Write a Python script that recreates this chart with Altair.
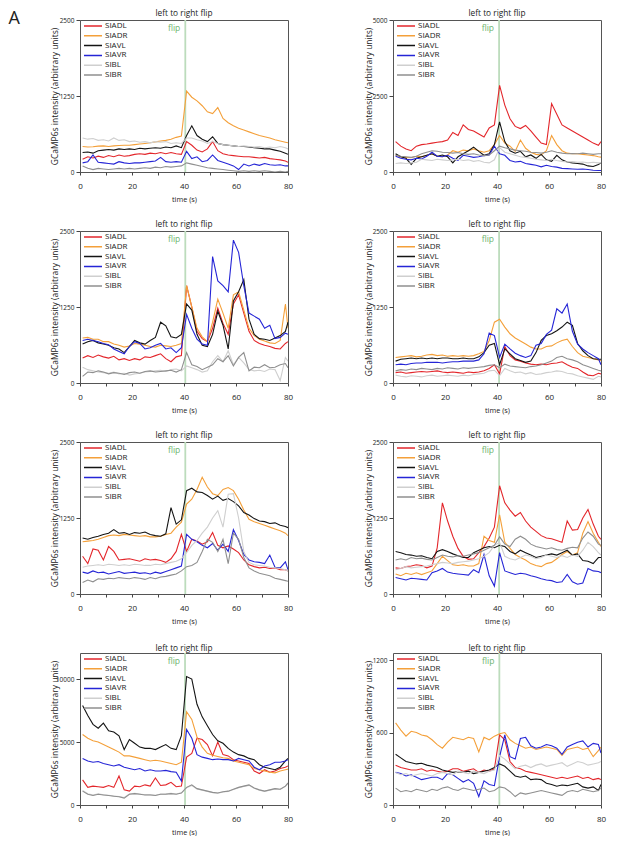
import altair as alt
import pandas as pd

FONT = "Open Sans"

# shared time grid (s)
T = [1, 3, 5, 7, 9, 11, 13, 15, 17, 19,
     21, 23, 25, 27, 29, 31, 33, 35, 37, 39,
     41, 43, 45, 47, 49, 51, 53, 55, 57, 59,
     61, 63, 65, 67, 69, 71, 73, 75, 77, 79, 80]

SERIES = ["SIADL", "SIADR", "SIAVL", "SIAVR", "SIBL", "SIBR"]
COLORS = ["#e3262b", "#f4a03a", "#141414", "#2525d6", "#cfcfcf", "#8f8f8f"]

FIG_LABEL = "A"
TITLES = ["left to right flip", "left to right flip", "left to right flip", "left to right flip",
          "left to right flip", "left to right flip", "left to right  flip", "left to right flip"]
Y_MAX = [2500, 5000, 2500, 2500, 2500, 2500, 12070, 1258]
Y_TICKS = [[0, 1250, 2500], [0, 2500, 5000], [0, 1250, 2500], [0, 1250, 2500],
           [0, 1250, 2500], [0, 1250, 2500], [0, 5000, 10000], [0, 600, 1200]]
FLIP_T = [40.5, 40.8, 40.5, 40.8, 40.5, 40.8, 40.4, 40.9]
X_TICKS = [0, 10, 20, 30, 40, 50, 60, 70, 80]

# ---------------- panel 1 ----------------
P1_SIADL = [210, 250, 230, 260, 240, 270, 250, 280, 260, 270,
            290, 300, 290, 310, 300, 320, 300, 320, 300, 290,
            500, 440, 360, 330, 380, 500, 350, 300, 280, 270,
            260, 250, 250, 240, 230, 240, 220, 210, 200, 180, 160]
P1_SIADR = [420, 410, 415, 425, 430, 420, 430, 435, 440, 440,
            450, 460, 470, 480, 495, 510, 520, 540, 570, 590,
            1330, 1230, 1170, 1090, 990, 960, 1060, 880, 810, 760,
            720, 690, 660, 630, 600, 580, 560, 530, 510, 490, 480]
P1_SIAVL = [320, 330, 310, 350, 360, 370, 360, 380, 370, 380,
            370, 390, 380, 390, 400, 390, 410, 400, 430, 400,
            600, 760, 600, 540, 500, 580, 470, 450, 440, 430,
            420, 420, 410, 400, 390, 380, 380, 360, 340, 310, 290]
P1_SIAVR = [150, 170, 280, 160, 150, 140, 130, 170, 150, 140,
            150, 150, 160, 170, 180, 240, 170, 160, 170, 160,
            340, 220, 250, 170, 190, 280, 190, 160, 130, 100,
            40, 130, 100, 130, 110, 140, 120, 110, 120, 100, 100]
P1_SIBL = [560, 540, 550, 520, 530, 510, 560, 520, 530, 500,
           510, 490, 500, 480, 500, 490, 500, 470, 480, 470,
           560, 560, 530, 510, 470, 500, 470, 450, 440, 430,
           420, 430, 420, 410, 420, 400, 410, 400, 420, 400, 380]
P1_SIBR = [100, 60, 40, 60, 50, 40, 50, 60, 50, 60,
           50, 60, 70, 60, 80, 70, 90, 80, 90, 100,
           150, 130, 110, 90, 70, 60, 50, 40, 30, 20,
           10, 20, 10, 20, 10, 20, 10, 0, 10, 0, 10]

# ---------------- panel 2 ----------------
P2_SIADL = [1000, 850, 760, 700, 850, 900, 920, 950, 980, 1000,
            1050, 1300, 1200, 1550, 1400, 1350, 1250, 1150, 1450, 1550,
            2850, 2200, 1750, 1500, 1430, 1530, 1350, 1150, 950, 900,
            2250, 1900, 1550, 1450, 1350, 1250, 1150, 1050, 950, 880, 1000]
P2_SIADR = [550, 500, 480, 470, 520, 500, 550, 600, 520, 500,
            560, 700, 650, 720, 700, 760, 700, 650, 700, 900,
            1200, 950, 850, 680, 1050, 780, 650, 580, 560, 700,
            1200, 900, 700, 620, 600, 600, 580, 560, 540, 500, 490]
P2_SIAVL = [600, 500, 450, 250, 450, 500, 550, 600, 520, 560,
            500, 300, 500, 600, 700, 820, 680, 550, 600, 900,
            1650, 1000, 700, 620, 680, 500, 560, 450, 580, 400,
            350, 550, 400, 330, 300, 280, 260, 200, 180, 250, 300]
P2_SIAVR = [520, 450, 420, 400, 450, 430, 520, 650, 520, 500,
            550, 450, 380, 550, 520, 480, 500, 540, 560, 850,
            600, 550, 380, 330, 350, 280, 250, 220, 170, 220,
            180, 160, 120, 110, 100, 90, 100, 80, 60, 50, 50]
P2_SIBL = [280, 300, 280, 300, 320, 420, 400, 380, 420, 400,
           380, 400, 420, 380, 400, 350, 380, 320, 300, 400,
           800, 650, 600, 550, 500, 480, 450, 420, 400, 380,
           420, 380, 350, 330, 340, 320, 330, 300, 320, 300, 300]
P2_SIBR = [550, 520, 500, 480, 520, 600, 650, 700, 680, 650,
           640, 620, 640, 600, 580, 600, 560, 540, 560, 700,
           850, 800, 760, 720, 700, 680, 650, 640, 620, 650,
           700, 650, 620, 600, 610, 600, 620, 600, 580, 600, 600]

# ---------------- panel 3 ----------------
P3_SIADL = [410, 450, 420, 460, 430, 410, 440, 380, 400, 370,
            400, 380, 430, 420, 450, 480, 400, 350, 430, 450,
            1600, 1250, 850, 730, 680, 900, 1230, 980, 800, 1300,
            1450, 1150, 850, 700, 650, 620, 600, 570, 560, 650, 680]
P3_SIADR = [740, 750, 720, 720, 680, 680, 640, 620, 590, 610,
            650, 640, 620, 600, 590, 620, 610, 600, 620, 650,
            1600, 1250, 900, 760, 680, 1000, 1380, 1150, 900, 1450,
            1500, 1200, 900, 780, 720, 690, 660, 650, 700, 1300, 900]
P3_SIAVL = [640, 680, 700, 660, 640, 620, 580, 560, 500, 600,
            700, 660, 640, 700, 750, 1000, 940, 760, 740, 800,
            1300, 1200, 800, 620, 600, 800, 1180, 950, 560, 1350,
            1500, 1700, 1050, 800, 730, 720, 700, 740, 780, 850, 1000]
P3_SIAVR = [700, 720, 700, 680, 650, 630, 560, 520, 480, 600,
            680, 650, 560, 580, 620, 650, 560, 580, 500, 580,
            1130, 900, 720, 640, 620, 2080, 1680, 1600, 1500, 2350,
            2150, 1600, 1150, 1100, 1050, 900, 950, 730, 750, 820, 800]
P3_SIBL = [260, 220, 200, 180, 170, 160, 180, 150, 160, 130,
           150, 160, 180, 190, 200, 210, 190, 220, 230, 200,
           280, 250, 220, 180, 200, 350, 450, 350, 530, 300,
           420, 330, 220, 200, 210, 190, 230, 220, 40, 420, 360]
P3_SIBR = [110, 180, 170, 200, 180, 150, 170, 160, 140, 170,
           180, 160, 190, 200, 180, 190, 200, 210, 180, 220,
           500, 300, 270, 220, 260, 300, 400, 350, 450, 280,
           420, 500, 200, 260, 250, 300, 250, 260, 300, 320, 250]

# ---------------- panel 4 ----------------
P4_SIADL = [170, 180, 160, 170, 180, 190, 180, 190, 200, 180,
            170, 180, 170, 160, 180, 170, 180, 200, 240, 300,
            150, 600, 450, 380, 360, 330, 310, 300, 310, 300,
            320, 330, 350, 300, 260, 240, 180, 130, 120, 160, 150]
P4_SIADR = [420, 430, 440, 450, 430, 440, 460, 470, 450, 460,
            440, 450, 440, 450, 440, 450, 480, 520, 700, 1000,
            1050, 920, 810, 740, 690, 640, 590, 560, 560, 600,
            610, 660, 700, 720, 600, 500, 440, 420, 400, 380, 370]
P4_SIAVL = [360, 390, 400, 410, 400, 410, 400, 410, 400, 410,
            410, 400, 400, 410, 400, 400, 430, 500, 620, 650,
            300, 560, 480, 400, 370, 340, 360, 500, 700, 780,
            810, 860, 920, 1000, 950, 650, 530, 450, 400, 390, 390]
P4_SIAVR = [300, 310, 300, 320, 330, 330, 340, 340, 340, 330,
            340, 350, 350, 360, 360, 360, 380, 480, 820, 780,
            420, 640, 560, 490, 450, 420, 450, 620, 650, 800,
            870, 1220, 1150, 1300, 850, 640, 560, 500, 450, 400, 300]
P4_SIBL = [130, 110, 100, 120, 110, 100, 120, 130, 110, 120,
           130, 120, 110, 130, 120, 140, 150, 160, 200, 210,
           120, 240, 200, 170, 180, 150, 170, 140, 150, 170,
           180, 200, 190, 160, 150, 120, 100, 80, 60, 110, 100]
P4_SIBR = [200, 220, 210, 230, 220, 240, 230, 220, 240, 230,
           250, 240, 230, 250, 240, 250, 260, 270, 290, 300,
           250, 310, 280, 270, 260, 250, 270, 280, 300, 330,
           360, 420, 440, 400, 380, 350, 300, 270, 240, 210, 200]

# ---------------- panel 5 ----------------
P5_SIADL = [620, 500, 740, 720, 560, 780, 700, 560, 570, 580,
            560, 540, 580, 560, 570, 550, 520, 580, 700, 980,
            700, 900, 870, 820, 860, 1010, 800, 760, 790, 740,
            680, 560, 480, 450, 430, 440, 420, 430, 400, 400, 380]
P5_SIADR = [860, 870, 880, 900, 930, 960, 970, 960, 980, 970,
            960, 950, 960, 940, 940, 950, 980, 1000, 1100, 1180,
            1480, 1560, 1720, 1920, 1760, 1650, 1620, 1720, 1750, 1700,
            1560, 1380, 1230, 1190, 1160, 1130, 1100, 1070, 1040, 1000, 960]
P5_SIAVL = [920, 900, 930, 950, 980, 1000, 1060, 1000, 1010, 980,
            1010, 1000, 1020, 980, 960, 950, 990, 1420, 1150, 1220,
            1700, 1740, 1680, 1670, 1620, 1560, 1610, 1540, 1570, 1520,
            1450, 1340, 1300, 1240, 1200, 1190, 1160, 1170, 1130, 1110, 1090]
P5_SIAVR = [360, 340, 380, 350, 360, 330, 350, 370, 340, 350,
            360, 340, 350, 330, 360, 340, 370, 400, 430, 460,
            980, 900, 860, 800, 760, 830, 720, 820, 700, 1060,
            880, 650, 560, 530, 520, 500, 640, 440, 430, 530, 400]
P5_SIBL = [440, 460, 470, 480, 470, 490, 480, 470, 480, 470,
           490, 480, 470, 470, 490, 480, 500, 520, 540, 580,
           680, 800, 880, 1000, 1100, 1250, 1370, 1100, 1640, 1650,
           1250, 700, 520, 480, 470, 460, 440, 430, 420, 400, 380]
P5_SIBR = [190, 230, 200, 250, 240, 260, 250, 270, 260, 250,
           270, 260, 240, 270, 250, 280, 290, 310, 330, 380,
           450, 470, 520, 700, 900, 850, 700, 900, 500, 1000,
           900, 600, 430, 380, 340, 320, 300, 260, 240, 220, 210]

# ---------------- panel 6 ----------------
P6_SIADL = [430, 420, 450, 460, 480, 470, 430, 460, 760, 1500,
            1200, 950, 750, 620, 570, 580, 680, 780, 920, 1100,
            1780, 1500, 1380, 1280, 1340, 1200, 1100, 1030, 960, 920,
            910, 880, 850, 1200, 1050, 1060, 1250, 1390, 1150, 950, 900]
P6_SIADR = [330, 300, 340, 320, 350, 320, 350, 380, 500, 620,
            550, 480, 470, 480, 460, 460, 500, 950, 880, 850,
            1300, 850, 750, 650, 600, 560, 500, 470, 450, 500,
            520, 580, 650, 700, 640, 680, 1000, 1190, 1000, 850, 780]
P6_SIAVL = [700, 680, 650, 640, 620, 630, 600, 580, 700, 730,
            700, 660, 630, 600, 600, 680, 720, 760, 780, 760,
            800, 780, 700, 660, 720, 680, 640, 600, 620, 640,
            660, 640, 680, 720, 640, 660, 550, 540, 500, 600, 600]
P6_SIAVR = [270, 250, 230, 260, 250, 240, 230, 350, 380, 420,
            360, 340, 330, 320, 310, 400, 350, 650, 300, 130,
            680, 380, 350, 320, 340, 330, 300, 280, 250, 230,
            220, 190, 200, 320, 200, 160, 180, 420, 380, 370, 350]
P6_SIBL = [400, 420, 450, 430, 440, 450, 460, 480, 500, 520,
           510, 500, 520, 530, 540, 560, 580, 620, 680, 800,
           850, 620, 580, 560, 600, 640, 620, 580, 600, 640,
           620, 600, 630, 600, 640, 620, 720, 850, 780, 680, 640]
P6_SIBR = [560, 580, 560, 600, 580, 590, 570, 560, 600, 640,
           620, 610, 630, 620, 640, 660, 680, 720, 760, 800,
           940, 820, 780, 900, 950, 900, 820, 780, 760, 740,
           760, 730, 720, 750, 770, 760, 920, 1020, 950, 820, 800]

# ---------------- panel 7 ----------------
P7_SIADL = [2000, 1400, 1500, 1450, 1400, 1550, 1400, 2300, 1200, 1100,
            1500, 1450, 1600, 1500, 2150, 1550, 1600, 1800, 1450, 1500,
            3800, 4100, 5300, 5200, 4800, 3900, 5000, 4000, 3900, 3600,
            3500, 3400, 3300, 2700, 2500, 2800, 2600, 2700, 2900, 3000, 3100]
P7_SIADR = [5600, 5300, 5100, 5000, 4800, 4600, 4400, 4200, 3900, 3900,
            3800, 3700, 3600, 3500, 3550, 3500, 3400, 3300, 3200, 3400,
            7400, 6800, 5400, 4600, 4100, 3950, 3850, 3750, 3700, 3500,
            3400, 3300, 3200, 2900, 2800, 2700, 2600, 2550, 2700, 2800, 2850]
P7_SIAVL = [7900, 7100, 6400, 6100, 6500, 5900, 5800, 5500, 4400, 5200,
            4900, 4600, 4500, 4500, 4400, 4600, 4800, 4500, 4400, 5500,
            10200, 10000, 8000, 7000, 6300, 5600, 5100, 4900, 4500, 4200,
            4000, 3900, 3700, 3600, 3200, 3000, 2900, 2800, 3000, 3500, 3700]
P7_SIAVR = [3700, 3500, 3400, 3450, 3300, 3200, 3100, 3200, 3000, 2900,
            2800, 2900, 2700, 2800, 2700, 2700, 2750, 2650, 2600, 1900,
            6000, 5300, 4000, 3800, 3700, 3600, 3650, 3600, 3600, 3500,
            3700, 3600, 3500, 3000, 2800, 3100, 3200, 3400, 3400, 3500, 3600]
P7_SIBL = [1150, 900, 800, 880, 820, 780, 720, 680, 600, 880,
           920, 870, 820, 830, 780, 870, 880, 920, 870, 970,
           1380, 1550, 1280, 1180, 1080, 980, 940, 1030, 1080, 1230,
           1380, 1480, 1560, 1330, 1180, 1080, 1180, 1280, 1230, 1480, 1700]
P7_SIBR = [1100, 850, 750, 850, 800, 750, 700, 650, 550, 850,
           900, 850, 800, 800, 750, 850, 850, 900, 850, 950,
           1400, 1600, 1300, 1200, 1100, 1000, 950, 1050, 1100, 1250,
           1400, 1500, 1600, 1350, 1200, 1100, 1200, 1300, 1250, 1500, 1750]

# ---------------- panel 8 ----------------
P8_SIADL = [330, 310, 300, 290, 290, 300, 280, 290, 280, 270,
            280, 300, 300, 280, 290, 300, 270, 290, 280, 300,
            580, 540, 360, 310, 300, 280, 270, 260, 250, 240,
            230, 220, 230, 220, 230, 240, 220, 230, 210, 220, 210]
P8_SIADR = [680, 620, 570, 610, 600, 580, 570, 540, 500, 470,
            520, 560, 550, 540, 560, 550, 440, 560, 540, 570,
            590, 600, 540, 510, 490, 470, 480, 460, 470, 480,
            470, 460, 410, 460, 470, 480, 460, 470, 400, 450, 480]
P8_SIAVL = [420, 390, 360, 350, 340, 345, 330, 320, 310, 290,
            280, 270, 275, 270, 280, 260, 270, 280, 290, 310,
            340, 320, 280, 240, 230, 240, 210, 215, 210, 180,
            170, 155, 165, 160, 170, 180, 150, 140, 150, 120, 170]
P8_SIAVR = [270, 260, 240, 250, 230, 210, 220, 230, 230, 210,
            260, 250, 220, 190, 210, 180, 70, 200, 170, 160,
            400, 580, 400, 380, 550, 560, 490, 470, 480, 500,
            490, 470, 420, 480, 500, 520, 530, 480, 510, 500, 430]
P8_SIBL = [270, 250, 260, 240, 250, 260, 250, 240, 260, 270,
           260, 250, 280, 270, 260, 280, 270, 260, 280, 290,
           410, 380, 340, 300, 320, 330, 310, 330, 340, 320,
           330, 340, 350, 320, 340, 360, 350, 330, 340, 350, 360]
P8_SIBR = [140, 110, 120, 110, 130, 120, 110, 130, 120, 140,
           150, 130, 120, 140, 130, 120, 130, 140, 110, 120,
           150, 140, 110, 70, 100, 90, 100, 110, 120, 110,
           100, 90, 80, 110, 120, 110, 130, 120, 110, 120, 140]

PANELS = [
    [P1_SIADL, P1_SIADR, P1_SIAVL, P1_SIAVR, P1_SIBL, P1_SIBR],
    [P2_SIADL, P2_SIADR, P2_SIAVL, P2_SIAVR, P2_SIBL, P2_SIBR],
    [P3_SIADL, P3_SIADR, P3_SIAVL, P3_SIAVR, P3_SIBL, P3_SIBR],
    [P4_SIADL, P4_SIADR, P4_SIAVL, P4_SIAVR, P4_SIBL, P4_SIBR],
    [P5_SIADL, P5_SIADR, P5_SIAVL, P5_SIAVR, P5_SIBL, P5_SIBR],
    [P6_SIADL, P6_SIADR, P6_SIAVL, P6_SIAVR, P6_SIBL, P6_SIBR],
    [P7_SIADL, P7_SIADR, P7_SIAVL, P7_SIAVR, P7_SIBL, P7_SIBR],
    [P8_SIADL, P8_SIADR, P8_SIAVL, P8_SIAVR, P8_SIBL, P8_SIBR],
]

Y_TITLE = "GCaMP6s intensity  (arbitrary units)"
W, H = 208, 152
TEXT = "#222222"


def make_df(series_lists):
    recs = []
    for name, vals in zip(SERIES, series_lists):
        for t, v in zip(T, vals):
            recs.append({"t": t, "v": v, "series": name})
    return pd.DataFrame(recs)


def panel(idx):
    left = idx % 2 == 0
    df = make_df(PANELS[idx])
    x_enc = alt.X(
        "t:Q",
        scale=alt.Scale(domain=[0, 80], nice=False, zero=False),
        axis=alt.Axis(values=X_TICKS,
                      labelExpr="datum.value % 20 === 0 ? datum.label : ''",
                      title="time (s)", titleX=W / 2, titleY=27,
                      titleBaseline="middle", tickSize=3, labelPadding=7,
                      labelFlush=False, grid=False, domain=False),
    )
    lines = alt.Chart(df).mark_line(strokeWidth=1.1, clip=True).encode(
        y=alt.Y("v:Q",
                scale=alt.Scale(domain=[0, Y_MAX[idx]], nice=False, zero=True),
                axis=alt.Axis(values=Y_TICKS[idx], format="d", title=Y_TITLE,
                              titleX=-26 if left else -25, titleY=H / 2,
                              titleBaseline="middle", tickSize=4, labelPadding=2,
                              grid=False, domain=False)),
        color=alt.Color("series:N",
                        scale=alt.Scale(domain=SERIES, range=COLORS),
                        legend=alt.Legend(orient="none", legendX=3, legendY=1.5,
                                          title=None, direction="vertical",
                                          symbolType="stroke", symbolSize=324,
                                          symbolStrokeWidth=1.5, labelFontSize=8,
                                          labelFont=FONT, labelColor=TEXT,
                                          labelOffset=2, rowPadding=0.8, padding=0,
                                          clipHeight=9)),
    )
    flip_df = pd.DataFrame({"t": [FLIP_T[idx]], "label": ["flip"]})
    rule = alt.Chart(flip_df).mark_rule(color="#bcdcbc", strokeWidth=1.8).encode()
    flip_txt = alt.Chart(flip_df).mark_text(
        align="right", baseline="middle", dx=-5, fontSize=8.5, font=FONT,
        color="#6db36d").encode(y=alt.value(7.5), text="label:N")
    return alt.layer(rule, lines, flip_txt).encode(x=x_enc).properties(
        width=W, height=H,
        title=alt.TitleParams(TITLES[idx], anchor="middle", offset=0))


panels = [panel(i) for i in range(8)]

chart = alt.concat(
    *panels, columns=2, spacing={"row": 59, "column": 105}, bounds="flush"
).resolve_scale(color="independent").properties(
    padding=0,
    title=alt.TitleParams(FIG_LABEL, anchor="start", orient="top",
                          align="left", offset=-20, dx=-41, fontSize=18,
                          fontWeight="normal", font=FONT, color=TEXT),
).configure(
    font=FONT
).configure_view(
    stroke="#555555", strokeWidth=1
).configure_axis(
    labelFont=FONT, titleFont=FONT, labelColor=TEXT, titleColor=TEXT,
    titleFontWeight="normal", tickColor="#444444", tickWidth=1
).configure_axisX(
    labelFontSize=8, titleFontSize=7.3
).configure_axisY(
    labelFontSize=6.5, titleFontSize=8.5
).configure_title(
    font=FONT, fontSize=8.3, fontWeight="normal", color=TEXT, offset=0
)

chart.save("out.html", embed_options={"renderer": "svg", "actions": False})
